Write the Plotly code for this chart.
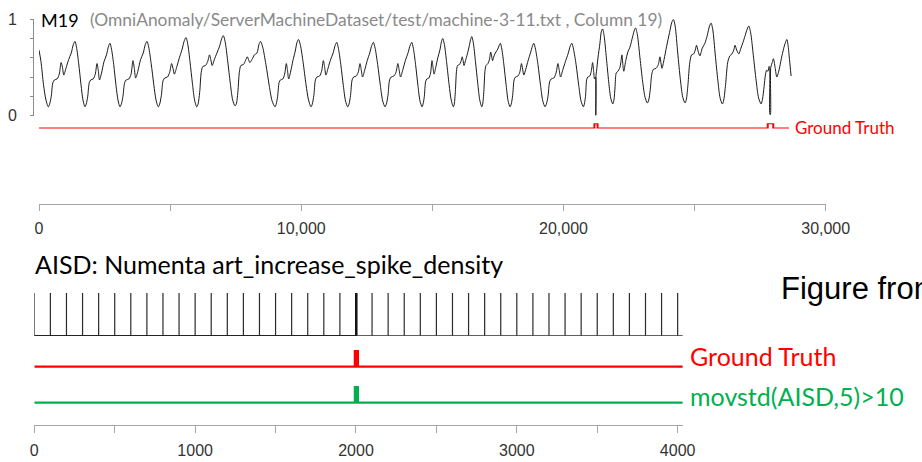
import plotly.graph_objects as go

W, H = 922, 462

# ---------------- data: top panel (SMD machine-3-11, column 19) ----------------
m19_x = [0, 76, 172, 267, 355,
 406, 467, 528, 589, 691, 772, 844, 895, 945, 1027, 1129, 1230, 1312, 1373, 1430, 1514, 1602, 1678, 1754,
 1802, 1859, 1916, 1973, 2069, 2145, 2212, 2260, 2307, 2384, 2479, 2574, 2651, 2708, 2765, 2849, 2937, 3013, 3089,
 3141, 3202, 3264, 3326, 3429, 3511, 3583, 3635, 3686, 3769, 3872, 3975, 4057, 4119, 4184, 4278, 4378, 4464, 4550,
 4603, 4666, 4730, 4793, 4899, 4983, 5057, 5110, 5163, 5248, 5353, 5459, 5544, 5607, 5668, 5758, 5852, 5933, 6015,
 6066, 6127, 6187, 6248, 6350, 6431, 6502, 6552, 6603, 6684, 6786, 6887, 6968, 7029, 7096, 7194, 7297, 7386, 7475,
 7524, 7582, 7640, 7699, 7796, 7874, 7942, 7991, 8039, 8117, 8215, 8312, 8390, 8448, 8531, 8653, 8780, 8890, 9001,
 9046, 9100, 9153, 9207, 9297, 9368, 9431, 9476, 9521, 9592, 9682, 9772, 9839, 9897, 9969, 10073, 10183, 10279, 10374,
 10423, 10482, 10541, 10599, 10697, 10776, 10844, 10893, 10942, 11021, 11119, 11217, 11295, 11354, 11417, 11509, 11606, 11690, 11774,
 11823, 11881, 11940, 11998, 12096, 12174, 12242, 12291, 12340, 12418, 12516, 12613, 12691, 12750, 12817, 12915, 13018, 13107, 13196,
 13247, 13308, 13369, 13430, 13532, 13614, 13685, 13736, 13787, 13869, 13970, 14072, 14154, 14215, 14274, 14360, 14451, 14529, 14608,
 14647, 14695, 14742, 14789, 14868, 14931, 14987, 15026, 15066, 15129, 15208, 15287, 15350, 15397, 15458, 15546, 15639, 15720, 15801,
 15836, 15878, 15920, 15962, 16033, 16089, 16138, 16173, 16208, 16264, 16335, 16405, 16461, 16503, 16560, 16644, 16733, 16809, 16885,
 16920, 16963, 17006, 17048, 17119, 17176, 17225, 17261, 17296, 17353, 17424, 17495, 17551, 17594, 17650, 17731, 17816, 17890, 17964,
 18009, 18063, 18118, 18172, 18262, 18335, 18398, 18443, 18488, 18561, 18651, 18741, 18814, 18868, 18933, 19027, 19127, 19212, 19299,
 19350, 19411, 19472, 19533, 19635, 19716, 19788, 19839, 19889, 19971, 20073, 20174, 20256, 20317, 20383, 20481, 20583, 20671, 20760,
 20797, 20841, 20884, 20928, 21001, 21060, 21111, 21148, 21185, 21225, 21233, 21241, 21260, 21316, 21390, 21443, 21492, 21550, 21636, 21725, 21803, 21881,
 21924, 21968, 22011, 22072, 22142, 22186, 22229, 22264, 22299, 22368, 22455, 22534, 22647, 22708, 22751, 22818, 22917, 23021, 23111, 23201,
 23251, 23310, 23369, 23429, 23528, 23617, 23677, 23716, 23756, 23835, 23934, 24043, 24133, 24192, 24259, 24357, 24460, 24549, 24638,
 24688, 24747, 24817, 24886, 24965, 25025, 25074, 25134, 25203, 25293, 25392, 25481, 25570, 25630, 25695, 25789, 25889, 25975, 26061,
 26111, 26182, 26262, 26343, 26424, 26494, 26544, 26605, 26685, 26766, 26846, 26927, 27008, 27068, 27138, 27242, 27349, 27443, 27537,
 27590, 27650, 27700, 27747, 27800, 27839, 27860, 27875, 27890, 27905, 27960, 28006, 28070, 28136, 28200, 28250, 28330, 28420, 28480, 28518, 28560, 28620, 28681]
m19_y = [0.68, 0.56, 0.32, 0.16, 0.09,
 0.12, 0.20, 0.34, 0.37, 0.38, 0.43, 0.55, 0.50, 0.42, 0.49, 0.58, 0.65, 0.74, 0.77, 0.71, 0.54, 0.32, 0.16, 0.09,
 0.12, 0.20, 0.34, 0.37, 0.38, 0.43, 0.54, 0.47, 0.37, 0.44, 0.56, 0.63, 0.72, 0.75, 0.69, 0.53, 0.31, 0.16, 0.09,
 0.12, 0.20, 0.34, 0.37, 0.38, 0.43, 0.57, 0.49, 0.39, 0.46, 0.58, 0.65, 0.74, 0.77, 0.71, 0.54, 0.32, 0.16, 0.09,
 0.12, 0.21, 0.36, 0.39, 0.40, 0.45, 0.54, 0.49, 0.43, 0.50, 0.60, 0.69, 0.78, 0.81, 0.75, 0.56, 0.33, 0.16, 0.09,
 0.12, 0.24, 0.45, 0.51, 0.52, 0.56, 0.63, 0.58, 0.52, 0.58, 0.65, 0.72, 0.80, 0.83, 0.77, 0.57, 0.33, 0.16, 0.10,
 0.12, 0.24, 0.45, 0.52, 0.53, 0.57, 0.61, 0.58, 0.55, 0.58, 0.63, 0.65, 0.74, 0.77, 0.71, 0.53, 0.31, 0.15, 0.09,
 0.12, 0.20, 0.34, 0.37, 0.38, 0.43, 0.54, 0.47, 0.38, 0.45, 0.57, 0.67, 0.76, 0.79, 0.73, 0.55, 0.32, 0.16, 0.09,
 0.12, 0.21, 0.37, 0.40, 0.41, 0.46, 0.57, 0.50, 0.42, 0.49, 0.58, 0.65, 0.73, 0.76, 0.70, 0.53, 0.31, 0.15, 0.09,
 0.12, 0.21, 0.37, 0.40, 0.41, 0.45, 0.54, 0.47, 0.40, 0.47, 0.57, 0.65, 0.73, 0.76, 0.70, 0.53, 0.31, 0.15, 0.09,
 0.12, 0.21, 0.37, 0.40, 0.41, 0.45, 0.54, 0.47, 0.40, 0.47, 0.57, 0.65, 0.73, 0.76, 0.70, 0.53, 0.31, 0.15, 0.09,
 0.12, 0.20, 0.35, 0.38, 0.39, 0.44, 0.57, 0.50, 0.43, 0.50, 0.60, 0.68, 0.77, 0.80, 0.74, 0.55, 0.32, 0.16, 0.09,
 0.12, 0.25, 0.46, 0.52, 0.53, 0.56, 0.61, 0.57, 0.52, 0.57, 0.64, 0.72, 0.79, 0.82, 0.76, 0.56, 0.33, 0.16, 0.09,
 0.12, 0.25, 0.46, 0.52, 0.54, 0.58, 0.66, 0.62, 0.57, 0.62, 0.66, 0.69, 0.73, 0.75, 0.69, 0.52, 0.31, 0.15, 0.09,
 0.12, 0.21, 0.37, 0.40, 0.41, 0.45, 0.54, 0.48, 0.42, 0.48, 0.57, 0.65, 0.72, 0.75, 0.69, 0.53, 0.31, 0.15, 0.09,
 0.12, 0.20, 0.35, 0.38, 0.39, 0.44, 0.54, 0.47, 0.40, 0.47, 0.56, 0.64, 0.72, 0.75, 0.69, 0.53, 0.31, 0.15, 0.09,
 0.12, 0.20, 0.37, 0.40, 0.41, 0.46, 0.55, 0.47, 0.38, 0.40, 0.00, 0.42, 0.46, 0.60, 0.75, 0.87, 0.90, 0.83, 0.60, 0.35, 0.18, 0.12,
 0.16, 0.30, 0.44, 0.46, 0.49, 0.55, 0.63, 0.53, 0.46, 0.56, 0.66, 0.71, 0.83, 0.89, 0.91, 0.84, 0.60, 0.35, 0.19, 0.13,
 0.16, 0.27, 0.43, 0.48, 0.49, 0.53, 0.61, 0.55, 0.49, 0.58, 0.72, 0.86, 0.97, 1.00, 0.93, 0.65, 0.37, 0.19, 0.13,
 0.17, 0.32, 0.55, 0.63, 0.64, 0.68, 0.73, 0.67, 0.62, 0.70, 0.75, 0.83, 0.93, 0.96, 0.89, 0.63, 0.36, 0.18, 0.12,
 0.16, 0.32, 0.55, 0.62, 0.64, 0.68, 0.73, 0.68, 0.64, 0.70, 0.76, 0.83, 0.90, 0.93, 0.86, 0.62, 0.36, 0.18, 0.12,
 0.17, 0.30, 0.42, 0.47, 0.46, 0.51, 0.50, 0.01, 0.01, 0.50, 0.55, 0.59, 0.50, 0.40, 0.45, 0.51, 0.62, 0.72, 0.77, 0.79, 0.74, 0.58, 0.41]

m19_gt_end = 28600
m19_anomalies = [(21180, 21300), (27790, 28000)]
top_tick_vals = [0, 10000, 20000, 30000]
top_tick_text = ["0", "10,000", "20,000", "30,000"]

# ---------------- data: bottom panel (Numenta art_increase_spike_density) ----------------
aisd_length = 4032
aisd_spikes = list(range(0, 4001, 100))
aisd_dense_spikes = [1998, 2002, 2006]
aisd_gt_anomaly = (2000, 2005)
aisd_detect_anomaly = (2000, 2005)
bottom_tick_vals = [0, 1000, 2000, 3000, 4000]
bottom_tick_text = ["0", "1000", "2000", "3000", "4000"]

RED = "#ff0000"
GREEN = "#00b050"

def px_x(p):
    return p / W

def px_y(p):
    return 1 - p / H

def step_line(anoms, end):
    xs, ys = [0], [0]
    for a, b in anoms:
        xs += [a, a, b, b]
        ys += [0, 1, 1, 0]
    xs.append(end)
    ys.append(0)
    return xs, ys

def spike_line(spikes, end):
    xs, ys = [0, end, None], [0, 0, None]
    for s in spikes:
        xs += [s, s, None]
        ys += [0, 1, None]
    return xs, ys

fig = go.Figure()

# top signal
fig.add_trace(go.Scatter(x=m19_x, y=m19_y, mode="lines", xaxis="x", yaxis="y",
                         line=dict(color="#1a1a1a", width=1, shape="spline", smoothing=0.8),
                         hoverinfo="skip"))
gx, gy = step_line(m19_anomalies, m19_gt_end)
fig.add_trace(go.Scatter(x=gx, y=gy, mode="lines", xaxis="x", yaxis="y2",
                         line=dict(color=RED, width=2), hoverinfo="skip"))

# bottom
sx, sy = spike_line(aisd_spikes, aisd_length)
fig.add_trace(go.Scatter(x=sx, y=sy, mode="lines", xaxis="x2", yaxis="y3",
                         line=dict(color="#2b2b2b", width=1.2), hoverinfo="skip"))
dx, dy = spike_line(aisd_dense_spikes, aisd_dense_spikes[0])
fig.add_trace(go.Scatter(x=dx, y=dy, mode="lines", xaxis="x2", yaxis="y3",
                         line=dict(color="#111111", width=1.2), hoverinfo="skip"))
bx, by = step_line([aisd_gt_anomaly], aisd_length)
fig.add_trace(go.Scatter(x=bx, y=by, mode="lines", xaxis="x2", yaxis="y4",
                         line=dict(color=RED, width=4.5), hoverinfo="skip"))
mx, my = step_line([aisd_detect_anomaly], aisd_length)
fig.add_trace(go.Scatter(x=mx, y=my, mode="lines", xaxis="x2", yaxis="y5",
                         line=dict(color=GREEN, width=4.5), hoverinfo="skip"))

tickfont = dict(family="Liberation Sans, Arial, sans-serif", size=16, color="#333333")
axis_gray = "#a6a6a6"

fig.update_layout(
    width=W, height=H, autosize=False,
    margin=dict(l=0, r=0, t=0, b=0, pad=0, autoexpand=False),
    paper_bgcolor="white", plot_bgcolor="white", showlegend=False,
    xaxis=dict(domain=[px_x(39), px_x(825.7)], range=[0, 30000], anchor="free",
               position=px_y(204), showgrid=False, zeroline=False, showline=True,
               automargin=False,
               linecolor=axis_gray, linewidth=1.3, ticks="outside", ticklen=6,
               tickcolor=axis_gray, tickvals=top_tick_vals, ticktext=top_tick_text,
               tickfont=tickfont, ticklabelstandoff=4,
               minor=dict(dtick=5000, tick0=0, ticklen=6, tickcolor=axis_gray, ticks="outside")),
    yaxis=dict(domain=[px_y(115.5), px_y(19.3)], range=[0, 1], anchor="free",
               position=px_x(33), showgrid=False, zeroline=False, showline=True,
               automargin=False,
               linecolor="#8c8c8c", linewidth=1, ticks="outside", ticklen=3,
               tickcolor="#8c8c8c", tickvals=[0, 1], ticktext=["0", "1"],
               tickfont=tickfont, ticklabelstandoff=10,
               minor=dict(dtick=0.2, tick0=0, ticklen=3, tickcolor="#8c8c8c", ticks="outside")),
    yaxis2=dict(domain=[px_y(128.5), px_y(123.3)], range=[0, 1], anchor="x", visible=False, automargin=False),
    xaxis2=dict(domain=[px_x(34.3), px_x(682.8)], range=[0, aisd_length], anchor="free",
                position=px_y(425), showgrid=False, zeroline=False, showline=True,
                automargin=False,
                linecolor=axis_gray, linewidth=1.3, ticks="outside", ticklen=7,
                tickcolor=axis_gray, tickvals=bottom_tick_vals, ticktext=bottom_tick_text,
                tickfont=tickfont, ticklabelstandoff=4,
                minor=dict(dtick=500, tick0=0, ticklen=7, tickcolor=axis_gray, ticks="outside")),
    yaxis3=dict(domain=[px_y(335.7), px_y(293)], range=[0, 1], anchor="x2", visible=False, automargin=False),
    yaxis4=dict(domain=[px_y(367.7), px_y(350)], range=[0, 1], anchor="x2", visible=False, automargin=False),
    yaxis5=dict(domain=[px_y(403.7), px_y(386)], range=[0, 1], anchor="x2", visible=False, automargin=False),
)

def label(text, x, y, size, color, family="Lato, sans-serif"):
    fig.add_annotation(text=text, x=px_x(x), y=px_y(y), xref="paper", yref="paper",
                       xanchor="left", yanchor="middle", showarrow=False,
                       font=dict(family=family, size=size, color=color))

label("M19", 39, 20, 18, "#000000")
label("(OmniAnomaly/ServerMachineDataset/test/machine-3-11.txt , Column 19)", 88, 20, 17.4, "#8a8a8a")
label("Ground Truth", 793, 127.5, 17, RED)
label("AISD: Numenta art_increase_spike_density", 33, 264, 25, "#000000")
label("Figure from", 779, 288, 31, "#000000", family="Liberation Sans, Arial, sans-serif")
label("Ground Truth", 688, 356, 25, RED)
label("movstd(AISD,5)>10", 688, 396, 25, GREEN)

fig.write_html("out.html", config={"displayModeBar": False},
               post_script="document.body.style.margin='0';document.body.style.overflow='hidden';")
